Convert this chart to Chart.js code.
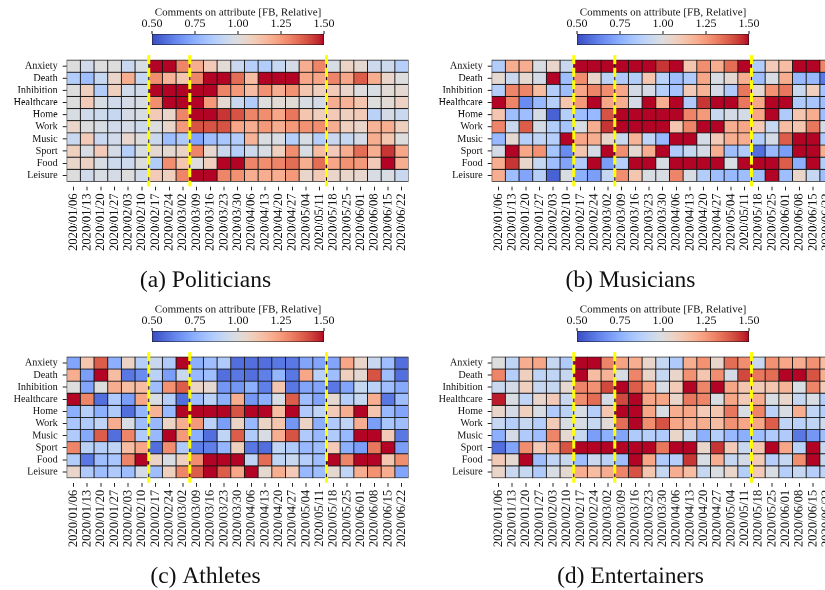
<!DOCTYPE html>
<html><head><meta charset="utf-8">
<script src="https://cdn.jsdelivr.net/npm/chart.js@4.4.1/dist/chart.umd.min.js"></script>
<style>
html,body{margin:0;padding:0;background:#fff;width:825px;height:590px;overflow:hidden;position:relative;}
canvas{position:absolute;}
</style></head><body>
<script>
const weeks = ['2020/01/06','2020/01/13','2020/01/20','2020/01/27','2020/02/03','2020/02/10','2020/02/17','2020/02/24','2020/03/02','2020/03/09','2020/03/16','2020/03/23','2020/03/30','2020/04/06','2020/04/13','2020/04/20','2020/04/27','2020/05/04','2020/05/11','2020/05/18','2020/05/25','2020/06/01','2020/06/08','2020/06/15','2020/06/22'];
const attributes = ['Anxiety','Death','Inhibition','Healthcare','Home','Work','Music','Sport','Food','Leisure'];
const breakWeeks = ['2020/02/17','2020/03/09','2020/05/18'];
const captions = ['(a) Politicians','(b) Musicians','(c) Athletes','(d) Entertainers'];
const cbMin = 0.5, cbMax = 1.5;
const cbTicks = [0.5, 0.75, 1.0, 1.25, 1.5];
const cbTitle = 'Comments on attribute [FB, Relative]';

const politicians = [
 [1.0,0.95,1.0,1.0,0.93,0.98,1.5,1.5,1.3,1.2,1.1,1.02,0.93,0.87,0.86,0.92,0.97,1.2,1.3,0.98,1.06,1.03,0.94,0.94,0.87],
 [0.86,0.8,0.92,1.05,1.2,0.92,1.28,1.18,1.12,1.3,1.5,1.5,1.35,1.15,1.5,1.5,1.5,1.22,1.22,1.3,1.22,1.38,1.2,1.05,1.0],
 [1.0,1.08,0.86,1.08,0.95,0.95,1.5,1.5,1.5,1.5,1.5,1.3,1.25,1.15,1.27,1.2,1.27,1.12,1.08,1.1,1.05,1.0,0.98,1.02,1.03],
 [1.0,1.1,0.98,0.95,0.97,0.98,1.28,1.5,1.5,1.5,1.25,1.03,0.93,0.86,1.0,1.02,1.02,0.98,0.97,1.2,1.18,1.12,1.0,1.02,1.07],
 [0.98,0.95,0.94,0.92,0.97,0.98,1.1,1.05,1.3,1.5,1.5,1.45,1.4,1.3,1.28,1.22,1.33,1.12,1.08,1.1,1.08,1.1,0.88,0.97,0.93],
 [1.05,1.0,0.98,0.95,0.97,0.94,0.99,1.05,1.25,1.4,1.4,1.4,1.22,1.2,1.25,1.2,1.25,1.27,1.28,1.2,1.08,1.05,1.18,1.2,1.08],
 [0.93,1.1,0.93,0.95,1.04,1.0,0.93,0.8,0.85,0.72,0.8,0.83,0.86,1.18,0.99,0.98,0.87,0.98,0.87,0.93,0.92,0.97,1.2,1.12,1.0],
 [1.08,0.98,1.1,0.97,0.87,0.98,1.03,1.03,1.06,1.3,1.04,0.93,0.87,0.94,0.98,1.08,1.28,0.98,1.15,1.1,1.2,1.35,1.2,1.45,1.22],
 [1.05,1.07,0.98,0.94,0.94,1.0,0.86,1.28,1.12,1.0,1.08,1.5,1.5,1.3,1.28,1.3,1.35,1.2,1.35,1.22,1.27,1.25,1.1,1.5,1.2],
 [1.0,0.95,0.98,0.97,1.0,0.95,1.1,1.08,1.3,1.5,1.5,1.3,1.27,1.2,1.2,1.2,1.25,1.05,1.1,1.05,1.05,1.04,0.98,0.98,0.93]
];
const musicians = [
 [0.86,1.2,1.2,0.98,1.05,0.93,1.5,1.5,1.5,1.5,1.5,1.5,1.45,1.5,1.12,1.28,1.2,1.35,1.5,0.86,1.1,1.15,1.5,1.5,1.3],
 [1.03,0.93,1.03,0.97,1.5,0.8,1.28,1.05,0.88,0.85,0.86,1.12,0.88,0.8,0.85,1.22,0.98,1.03,1.2,0.8,0.98,1.2,0.78,0.78,0.6],
 [0.87,1.3,1.3,1.15,0.86,0.8,1.22,1.3,1.28,1.22,0.97,0.97,0.87,0.82,1.1,1.18,0.97,0.85,1.33,1.03,1.27,1.33,0.93,1.08,0.82],
 [1.5,1.3,0.65,0.78,0.87,1.12,1.25,1.5,1.22,1.2,0.97,1.5,1.2,1.5,0.85,1.45,1.5,1.5,1.33,1.22,1.5,1.5,0.85,0.83,0.8],
 [1.12,0.8,0.8,0.97,0.55,0.87,0.8,0.78,1.4,1.5,1.5,1.5,1.5,1.5,1.3,1.25,0.93,0.97,0.97,1.22,1.5,0.85,1.12,1.2,0.8],
 [1.3,0.93,1.38,0.97,0.86,0.82,0.98,1.2,1.45,1.5,1.5,1.5,1.5,1.12,1.3,1.5,1.5,1.2,1.22,1.1,0.92,1.15,1.12,1.33,0.97],
 [0.78,1.03,0.87,0.9,0.87,1.5,1.22,1.2,1.05,0.93,1.18,0.9,0.78,1.5,1.5,0.97,1.1,1.2,1.2,0.86,0.97,1.38,1.5,1.5,0.85],
 [0.97,1.5,1.22,1.27,0.82,0.65,1.12,0.97,1.5,1.28,1.03,1.2,1.5,0.85,0.92,0.97,1.2,0.8,0.85,0.58,0.78,0.7,1.5,1.5,1.2],
 [1.2,1.45,1.05,0.92,0.8,0.72,0.85,1.5,0.7,0.87,1.5,1.5,0.98,1.5,1.5,1.5,1.5,0.98,1.5,1.5,1.5,1.38,0.75,1.5,0.86],
 [1.2,0.8,0.72,0.87,0.55,0.98,0.75,0.7,0.92,1.28,1.12,0.98,0.98,1.3,0.98,0.86,0.8,0.78,0.8,0.8,1.5,0.8,1.05,0.92,0.8]
];
const athletes = [
 [0.72,1.12,1.38,0.75,1.06,0.87,0.93,0.85,1.5,0.75,0.8,0.85,0.58,0.58,0.58,0.6,0.6,0.72,0.72,0.72,1.22,1.05,0.93,0.8,0.58],
 [1.2,0.7,1.5,1.15,0.6,0.65,0.88,0.7,0.93,0.78,0.8,0.58,0.6,0.58,0.62,0.77,0.6,1.22,0.88,0.8,1.08,1.03,1.4,0.8,0.58],
 [1.0,0.72,1.0,1.2,1.15,1.15,0.8,1.27,1.38,1.06,1.03,0.68,0.68,0.75,0.62,1.12,0.6,0.72,0.72,0.6,0.72,0.92,0.88,0.8,0.73],
 [1.5,1.3,0.58,0.85,0.7,1.22,0.98,0.87,0.58,0.8,0.88,0.75,1.2,0.68,0.75,0.98,1.38,0.8,0.72,1.03,0.87,0.92,1.2,0.6,0.8],
 [0.75,0.87,0.75,0.85,0.58,0.77,1.18,0.78,1.5,1.5,1.5,1.5,1.4,1.5,1.5,1.15,1.5,0.85,0.9,1.1,1.2,1.5,1.12,0.78,0.72],
 [0.83,0.85,0.9,1.2,0.98,0.8,0.78,1.06,1.2,1.25,0.88,0.7,1.06,0.78,1.06,1.12,0.68,1.06,0.75,0.85,0.9,1.2,0.7,0.83,0.8],
 [0.85,0.73,1.38,0.58,1.3,0.85,0.78,1.5,1.25,0.75,0.58,0.9,1.38,0.85,0.98,1.2,1.4,0.85,0.78,0.85,0.78,1.5,1.5,1.1,0.6],
 [1.3,0.88,0.87,0.9,1.15,1.22,0.58,1.28,0.85,0.62,0.62,0.77,1.08,0.6,0.58,0.9,0.85,0.78,0.8,1.1,0.75,0.7,1.33,1.5,0.7],
 [0.86,0.6,0.8,0.83,1.3,1.5,1.06,0.98,1.08,1.28,1.5,1.5,1.5,0.9,1.35,0.9,0.93,0.87,0.8,1.5,1.3,1.5,1.5,1.12,1.28],
 [1.05,0.85,0.8,0.85,0.8,0.97,0.8,1.08,1.3,1.38,1.5,1.38,1.22,1.5,1.03,1.2,1.1,0.78,0.8,1.03,0.9,1.2,1.27,1.2,0.72]
];
const entertainers = [
 [1.0,0.9,1.2,1.22,0.92,0.85,1.5,1.5,1.3,1.23,1.2,1.05,0.92,0.85,1.2,1.27,1.05,1.35,1.28,0.93,1.27,1.22,1.2,1.27,1.15],
 [1.3,0.87,1.08,0.9,0.9,0.92,1.5,1.15,1.18,0.98,1.3,1.05,0.92,1.05,1.27,1.12,1.28,0.97,1.42,1.33,1.35,1.5,1.5,1.4,1.2],
 [0.93,0.97,1.08,0.92,0.92,1.03,1.3,1.27,1.42,1.5,1.38,1.22,0.98,1.1,1.5,1.3,1.5,1.22,1.12,1.1,1.12,1.18,0.98,1.3,1.1],
 [1.48,0.98,0.9,1.05,1.1,0.93,1.28,1.35,0.97,1.42,1.5,1.22,1.22,1.05,1.33,1.3,0.98,1.22,1.1,1.2,0.98,1.05,0.92,0.98,0.87],
 [1.05,0.97,1.08,0.98,0.85,0.88,0.98,0.87,1.12,1.5,1.5,1.22,0.98,1.2,1.22,1.1,1.12,1.33,0.98,1.3,0.88,0.98,1.2,0.9,0.87],
 [0.92,0.87,0.92,0.87,1.1,0.98,0.98,0.92,1.02,1.35,1.5,1.28,1.4,1.22,1.2,1.2,1.15,1.27,1.22,1.22,1.38,0.9,0.88,0.9,0.95],
 [0.75,0.97,0.85,0.8,1.3,1.03,0.92,0.7,0.75,0.72,0.85,0.87,0.85,1.05,0.92,0.75,0.87,0.78,0.75,0.8,0.85,0.85,0.6,0.68,0.8],
 [0.58,0.72,1.28,1.1,1.22,1.4,1.5,1.5,1.5,1.5,1.5,1.5,1.33,1.5,1.5,1.05,1.45,1.1,0.93,1.12,1.5,1.22,0.88,1.5,0.93],
 [1.1,1.03,1.5,0.8,0.9,0.93,0.8,0.93,0.88,0.8,1.5,1.22,0.85,0.87,1.45,0.98,1.2,0.92,0.97,1.1,0.87,0.92,1.28,1.5,0.93],
 [1.05,0.93,0.92,0.85,0.98,1.03,1.2,1.15,1.2,1.3,1.4,1.12,0.92,1.2,1.15,0.92,0.98,1.05,0.87,1.1,0.98,0.87,0.92,0.87,0.9]
];

// coolwarm colormap (Moreland), 33 samples
const CW = [[59,76,192],[68,90,204],[77,104,215],[87,117,225],[98,130,234],[108,142,241],[119,154,247],[130,165,251],[141,176,254],[152,185,255],[163,194,255],[174,201,253],[184,208,249],[194,213,244],[204,217,238],[213,219,230],[221,221,221],[229,216,209],[236,211,197],[241,204,185],[245,196,173],[247,187,160],[247,177,148],[247,166,135],[244,154,123],[241,141,111],[236,127,99],[229,112,88],[222,96,77],[213,80,66],[203,62,56],[192,40,47],[180,4,38]];
function coolwarm(v){
  let t = (v - cbMin) / (cbMax - cbMin);
  t = Math.max(0, Math.min(1, t));
  const f = t * 32; const i = Math.min(31, Math.floor(f)); const u = f - i;
  const a = CW[i], b = CW[i+1];
  return 'rgb(' + [0,1,2].map(k => Math.round(a[k] + (b[k]-a[k])*u)).join(',') + ')';
}

const FONT = "'Liberation Serif', serif";
Chart.defaults.font.family = FONT;
Chart.defaults.color = '#111';

const breakPlugin = {
  id: 'breaks',
  afterDatasetsDraw(chart){
    const {ctx, chartArea, scales:{x}} = chart;
    const half = (x.getPixelForValue(1) - x.getPixelForValue(0)) / 2;
    ctx.save();
    ctx.strokeStyle = '#ffff00';
    ctx.lineWidth = 3;
    ctx.setLineDash([9, 3.5]);
    breakWeeks.forEach(w => {
      const px = x.getPixelForValue(weeks.indexOf(w)) - half;
      ctx.beginPath();
      ctx.moveTo(px, chartArea.top);
      ctx.lineTo(px, chartArea.bottom);
      ctx.stroke();
    });
    ctx.restore();
  }
};

function addCanvas(left, top, w, h){
  const c = document.createElement('canvas');
  c.width = w; c.height = h;
  c.style.left = left + 'px'; c.style.top = top + 'px';
  c.style.width = w + 'px'; c.style.height = h + 'px';
  document.body.appendChild(c);
  return c;
}

const Y_AXIS_W = 66.7, GRID_W = 344.3, CA_H = 132.5, PAD_TOP = 10, X_AXIS_H = 80;
const CAP_SIZE = 23.5, CAP_PAD = 0;
function makeHeatmap(gridLeft, caTop, values, caption){
  const W = 420, H = PAD_TOP + CA_H + X_AXIS_H + CAP_PAD + CAP_SIZE * 1.2;
  const c = addCanvas(gridLeft - Y_AXIS_W, caTop - PAD_TOP, W, H);
  new Chart(c, {
    type: 'bar',
    data: {
      labels: weeks,
      datasets: attributes.map((a, r) => ({
        label: a,
        data: values[r].map(() => [r, r + 1]),
        backgroundColor: values[r].map(v => coolwarm(v)),
        borderColor: '#151515',
        borderWidth: 0.8,
        borderSkipped: false,
        grouped: false,
        barPercentage: 1,
        categoryPercentage: 1
      }))
    },
    options: {
      responsive: false, animation: false, devicePixelRatio: 2,
      layout: { padding: { top: PAD_TOP, right: W - Y_AXIS_W - GRID_W, left: 0, bottom: 0 } },
      plugins: {
        legend: { display: false }, tooltip: { enabled: false },
        title: { display: true, position: 'bottom', text: caption, color: '#111',
                 font: { family: FONT, size: CAP_SIZE, weight: 'normal', lineHeight: 1.2 },
                 padding: { top: CAP_PAD, bottom: 0 } }
      },
      scales: {
        x: {
          type: 'category', offset: true,
          grid: { offset: false, drawOnChartArea: false, drawTicks: true, tickLength: 4, color: '#222' },
          border: { display: false },
          ticks: { autoSkip: false, minRotation: 90, maxRotation: 90, padding: 3, color: '#111', font: { family: FONT, size: 12.6 } },
          afterFit: s => { s.height = X_AXIS_H; }
        },
        y: {
          type: 'linear', reverse: true, min: -0.4, max: 10.4,
          grid: { drawOnChartArea: false, tickLength: 4, color: '#222' },
          border: { display: false },
          afterBuildTicks: ax => { ax.ticks = attributes.map((_, i) => ({ value: i + 0.5 })); },
          ticks: { autoSkip: false, padding: 5, color: '#111', font: { family: FONT, size: 10.2 }, callback: (v, i) => attributes[i] },
          afterFit: s => { s.width = Y_AXIS_W; }
        }
      }
    },
    plugins: [breakPlugin]
  });
}

function makeColorbar(barLeft, barTop){
  const PADL = 50, BAR_W = 172, BAR_H = 11, AX_H = 34;
  const W = BAR_W + 2 * PADL, H = AX_H + BAR_H + 3;
  const c = addCanvas(barLeft - PADL, barTop - AX_H, W, H);
  new Chart(c, {
    type: 'bar',
    data: {
      labels: [''],
      datasets: [{
        data: [[cbMin, cbMax]],
        backgroundColor: (ctx) => {
          const ch = ctx.chart; const xs = ch.scales.x;
          if (!xs || !ch.chartArea) return '#ddd';
          const g = ch.ctx.createLinearGradient(xs.getPixelForValue(cbMin), 0, xs.getPixelForValue(cbMax), 0);
          for (let k = 0; k <= 32; k++) {
            g.addColorStop(k / 32, coolwarm(cbMin + (cbMax - cbMin) * k / 32));
          }
          return g;
        },
        borderColor: '#111', borderWidth: 0.8, borderSkipped: false,
        barPercentage: 1, categoryPercentage: 1
      }]
    },
    options: {
      indexAxis: 'y', responsive: false, animation: false, devicePixelRatio: 2,
      layout: { padding: { left: PADL, right: PADL, top: 0, bottom: 3 } },
      plugins: { legend: { display: false }, tooltip: { enabled: false } },
      scales: {
        x: {
          type: 'linear', position: 'top', min: cbMin, max: cbMax,
          afterBuildTicks: ax => { ax.ticks = cbTicks.map(v => ({ value: v })); },
          ticks: { callback: v => v.toFixed(2), padding: 0, maxRotation: 0, color: '#111', font: { family: FONT, size: 12 } },
          grid: { drawOnChartArea: false, tickLength: 3, color: '#111' },
          border: { display: false },
          title: { display: true, text: cbTitle, color: '#111', font: { family: FONT, size: 11 }, padding: { top: 6, bottom: 0 } },
          afterFit: s => { s.height = AX_H; }
        },
        y: { display: false }
      }
    }
  });
}

const DY = 296.7;
makeHeatmap(66.7, 54.1, politicians, captions[0]);
makeHeatmap(491.7, 54.1, musicians, captions[1]);
makeHeatmap(66.7, 54.1 + DY, athletes, captions[2]);
makeHeatmap(491.7, 54.1 + DY, entertainers, captions[3]);
makeColorbar(152.3, 34);
makeColorbar(577.3, 34);
makeColorbar(152.3, 34 + DY);
makeColorbar(577.3, 34 + DY);
</script>
</body></html>
